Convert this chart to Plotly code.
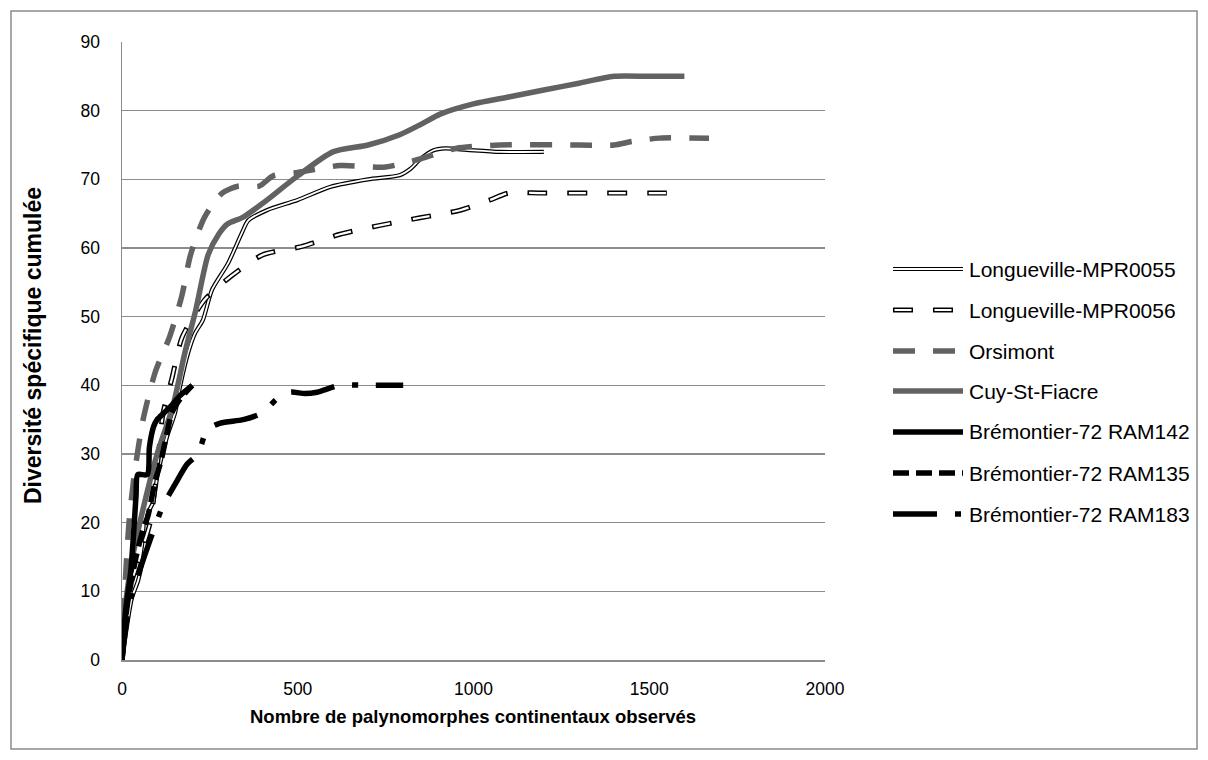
import plotly.graph_objects as go

# ---------------- data ----------------
l55_x = [0, 28, 46, 65, 74, 88, 102, 128, 151, 165, 188, 208, 230, 256, 302, 341, 359, 412, 500, 592, 700, 790, 820, 850, 885, 920, 981, 1075, 1200]
l55_y = [0, 9, 11.6, 16.5, 21.4, 22.9, 27.2, 32.5, 36, 39.8, 44.7, 47.6, 49.5, 53.9, 57.8, 62.2, 64, 65.5, 67, 68.9, 70, 70.6, 71.5, 73, 74.2, 74.5, 74.3, 74, 74]

l56_x = [0, 20, 50, 80, 100, 117, 142, 171, 236, 313, 400, 510, 620, 734, 848, 962, 1047, 1100, 1200, 1550]
l56_y = [0, 10, 15, 20, 28, 36, 41, 47, 52.5, 56, 59, 60.2, 62, 63.3, 64.4, 65.5, 67, 68, 68, 68]

ors_x = [0, 10, 20, 35, 60, 95, 135, 170, 195, 235, 285, 330, 390, 430, 500, 620, 750, 850, 950, 1075, 1300, 1400, 1450, 1530, 1670]
ors_y = [0, 12, 20, 27, 35, 42, 47, 53, 59, 64.5, 68, 69, 69, 70.5, 71, 72, 71.8, 73, 74.5, 75, 75, 75, 75.5, 76, 76]

cuy_x = [0, 10, 30, 60, 100, 145, 180, 210, 245, 275, 300, 345, 400, 500, 600, 700, 790, 850, 905, 1000, 1100, 1200, 1300, 1400, 1500, 1600]
cuy_y = [0, 8, 15, 22, 30, 37, 45, 51, 59, 62, 63.5, 64.5, 66.5, 70.5, 74, 75, 76.5, 78, 79.5, 81, 82, 83, 84, 85, 85, 85]

r142_x = [0, 10, 25, 35, 40, 45, 72, 78, 90, 100, 120, 140, 165, 200]
r142_y = [0, 7, 13, 20, 24, 27, 27, 31, 34, 35, 36, 37, 38.5, 40]

r135_x = [0, 15, 40, 60, 74, 94, 111, 128, 142, 165, 200]
r135_y = [0, 8, 15, 19, 21, 26, 29, 33, 36, 38, 40]

r183_x = [0, 20, 50, 80, 117, 150, 185, 216, 242, 280, 345, 400, 440, 478, 520, 555, 620, 700, 800]
r183_y = [0, 8, 13, 17.5, 22.5, 25.5, 28.5, 30, 33.5, 34.5, 35, 36, 38, 39, 38.8, 39, 40, 40, 40]

series_names = ["Longueville-MPR0055", "Longueville-MPR0056", "Orsimont", "Cuy-St-Fiacre",
                "Brémontier-72 RAM142", "Brémontier-72 RAM135", "Brémontier-72 RAM183"]

x_ticks = [0, 500, 1000, 1500, 2000]
y_ticks = [0, 10, 20, 30, 40, 50, 60, 70, 80, 90]

# ---------------- styles ----------------
GRAY = "#626262"
BLACK = "#000000"
styles = {
    "Longueville-MPR0055": [(BLACK, 4.2, "solid"), ("#ffffff", 1.8, "solid")],
    "Longueville-MPR0056": [(BLACK, 5, "20px,20px"), ("#ffffff", 2.2, "0px,1.5px,17px,21.5px")],
    "Orsimont": [(GRAY, 5.5, "22px,18px")],
    "Cuy-St-Fiacre": [(GRAY, 5.5, "solid")],
    "Brémontier-72 RAM142": [(BLACK, 5.5, "solid")],
    "Brémontier-72 RAM135": [(BLACK, 5.5, "16px,7px")],
    "Brémontier-72 RAM183": [(BLACK, 5.5, "44px,18px,6px,18px")],
}
data = {
    "Longueville-MPR0055": (l55_x, l55_y),
    "Longueville-MPR0056": (l56_x, l56_y),
    "Orsimont": (ors_x, ors_y),
    "Cuy-St-Fiacre": (cuy_x, cuy_y),
    "Brémontier-72 RAM142": (r142_x, r142_y),
    "Brémontier-72 RAM135": (r135_x, r135_y),
    "Brémontier-72 RAM183": (r183_x, r183_y),
}

fig = go.Figure()
for name in series_names:
    xs, ys = data[name]
    for color, w, dash in styles[name]:
        fig.add_trace(go.Scatter(
            x=xs, y=ys, mode="lines", name=name, showlegend=False,
            line=dict(color=color, width=w, dash=dash, shape="spline", smoothing=0.7),
            hoverinfo="skip"))

# ---------------- layout geometry ----------------
W, H = 1208, 760
L, R, T, B = 122, 383, 42, 100
pw, ph = W - L - R, H - T - B

def px2paper_x(px):
    return (px - L) / pw

def px2paper_y(py):
    return (H - B - py) / ph

FONT = "Liberation Sans, Arial, sans-serif"
shapes = []
shapes.append(dict(type="rect", xref="paper", yref="paper",
                   x0=px2paper_x(11), x1=px2paper_x(1197), y0=px2paper_y(749), y1=px2paper_y(11),
                   line=dict(color="#8c8c8c", width=1.5), fillcolor="rgba(0,0,0,0)", layer="below"))

annotations = []
leg_y = [269, 310, 351, 391, 432, 473, 514]
for name, py in zip(series_names, leg_y):
    for color, w, dash in styles[name]:
        shapes.append(dict(type="line", xref="paper", yref="paper",
                           x0=px2paper_x(893), x1=px2paper_x(963),
                           y0=px2paper_y(py), y1=px2paper_y(py),
                           line=dict(color=color, width=w, dash=dash)))
    annotations.append(dict(xref="paper", yref="paper", x=px2paper_x(967), y=px2paper_y(py),
                            text=name, showarrow=False, xanchor="left", yanchor="middle",
                            font=dict(family=FONT, size=21, color="#000")))

annotations.append(dict(xref="paper", yref="paper", x=px2paper_x(473), y=px2paper_y(716),
                        text="<b>Nombre de palynomorphes continentaux observés</b>", showarrow=False,
                        xanchor="center", yanchor="middle",
                        font=dict(family=FONT, size=18.5, color="#000")))
annotations.append(dict(xref="paper", yref="paper", x=px2paper_x(33), y=px2paper_y(346),
                        text="<b>Diversité spécifique cumulée</b>", showarrow=False, textangle=-90,
                        xanchor="center", yanchor="middle",
                        font=dict(family=FONT, size=23, color="#000")))

fig.update_layout(
    width=W, height=H,
    margin=dict(l=L, r=R, t=T, b=B, autoexpand=False),
    paper_bgcolor="white", plot_bgcolor="white",
    font=dict(family=FONT, size=17.5, color="#000"),
    showlegend=False,
    shapes=shapes, annotations=annotations,
    xaxis=dict(range=[0, 2000], tickvals=x_ticks, showgrid=False, zeroline=False,
               showline=True, linecolor="#8c8c8c", linewidth=1.5, ticks="",
               ticklabelstandoff=12, tickfont=dict(size=17.5)),
    yaxis=dict(range=[0, 90], tickvals=y_ticks, showgrid=True, gridcolor="#8c8c8c", gridwidth=1.2,
               zeroline=False, showline=True, linecolor="#8c8c8c", linewidth=1.5, ticks="",
               ticklabelstandoff=17, tickfont=dict(size=17.5)),
)

fig.write_html("out.html", config={"displayModeBar": False, "staticPlot": True},
               post_script="document.body.style.margin='0px';document.body.style.overflow='hidden';")
